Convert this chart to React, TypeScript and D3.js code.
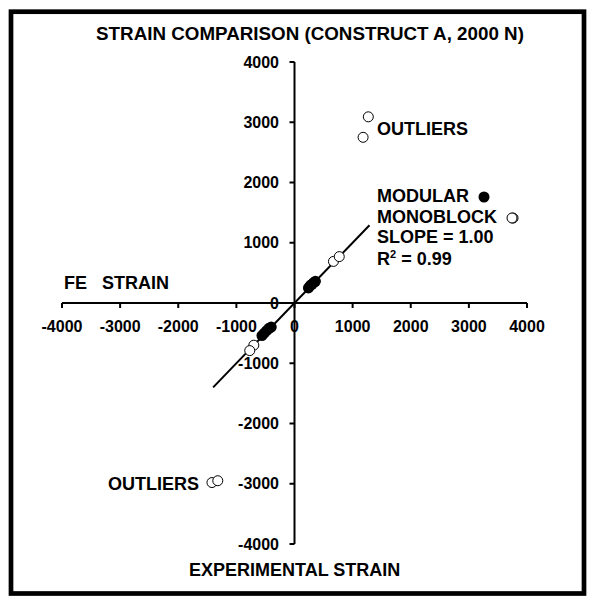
import React from "react";
import * as d3 from "d3";

// valori (microstrain)
const modular = [
  [240, 250], [270, 290], [300, 310], [330, 340], [360, 360],
  [-560, -540], [-520, -500], [-480, -460], [-440, -420], [-400, -400],
];
const monoblock = [
  [670, 690], [770, 770], [-700, -700], [-770, -790],
  [1270, 3090], [1180, 2750], [3760, 1410], [-1420, -2980], [-1320, -2950],
];
const xTicks = [-4000, -3000, -2000, -1000, 0, 1000, 2000, 3000, 4000];
const yTicks = [-4000, -3000, -2000, -1000, 0, 1000, 2000, 3000, 4000];
const fitSlope = 1.0;
const fitRange = [-1400, 1290];
const title = "STRAIN COMPARISON (CONSTRUCT A, 2000 N)";

const W = 600;
const H = 609;
const font = "'Liberation Sans', Arial, sans-serif";

export default function App() {
  const x = d3.scaleLinear().domain([-4000, 4000]).range([62, 527]);
  const y = d3.scaleLinear().domain([-4000, 4000]).range([544, 62]);
  const x0 = x(0);
  const y0 = y(0);

  const line = d3.line<number>()
    .x(d => x(d))
    .y(d => y(d * fitSlope));

  const txt = { fontFamily: font, fontWeight: "bold" as const, fill: "#000" };

  return (
    <svg width={W} height={H} style={{ position: "absolute", left: 0, top: 0 }}>
      <rect x={0} y={0} width={W} height={H} fill="#fff" />
      <rect x={11} y={11.7} width={573} height={581.8} fill="none" stroke="#000" strokeWidth={4.7} />

      <text x={310} y={40} textAnchor="middle" fontSize={18.8} {...txt}>{title}</text>

      {/* assi */}
      <line x1={x(-4000)} x2={x(4000)} y1={y0} y2={y0} stroke="#000" strokeWidth={2} />
      <line x1={x0} x2={x0} y1={y(4000)} y2={y(-4000)} stroke="#000" strokeWidth={2} />

      {xTicks.map(t => (
        <g key={"x" + t}>
          <line x1={x(t)} x2={x(t)} y1={y0} y2={y0 + 5} stroke="#000" strokeWidth={2} />
          <text x={x(t)} y={332} textAnchor="middle" fontSize={16} {...txt}>{t}</text>
        </g>
      ))}
      {yTicks.map(t => (
        <g key={"y" + t}>
          <line x1={x0 - 5} x2={x0} y1={y(t)} y2={y(t)} stroke="#000" strokeWidth={2} />
          <text x={279} y={y(t) + 5.7} textAnchor="end" fontSize={16} {...txt}>{t}</text>
        </g>
      ))}

      <text x={64} y={289} fontSize={18} xmlSpace="preserve" style={{ whiteSpace: "pre" }} {...txt}>{"FE   STRAIN"}</text>
      <text x={189} y={576} fontSize={18} {...txt}>EXPERIMENTAL STRAIN</text>

      {/* retta di regressione */}
      <path d={line(fitRange) || ""} fill="none" stroke="#000" strokeWidth={2} />

      {monoblock.map((d, i) => (
        <circle key={"o" + i} cx={x(d[0])} cy={y(d[1])} r={5} fill="#fff" stroke="#000" strokeWidth={1} />
      ))}
      {modular.map((d, i) => (
        <circle key={"f" + i} cx={x(d[0])} cy={y(d[1])} r={5.5} fill="#000" />
      ))}

      {/* annotazioni */}
      <text x={377} y={135} fontSize={18} {...txt}>OUTLIERS</text>
      <text x={199} y={490} textAnchor="end" fontSize={18} {...txt}>OUTLIERS</text>
      <text x={377} y={201.7} fontSize={18} {...txt}>MODULAR</text>
      <circle cx={484} cy={197} r={5.5} fill="#000" />
      <text x={377} y={222.7} fontSize={18} {...txt}>MONOBLOCK</text>
      <circle cx={512} cy={218} r={5} fill="#fff" stroke="#000" strokeWidth={1} />
      <text x={377} y={243.3} fontSize={18} {...txt}>SLOPE = 1.00</text>
      <text x={377} y={265} fontSize={18} {...txt}>
        R<tspan fontSize={11} dy={-7}>2</tspan><tspan dy={7}> = 0.99</tspan>
      </text>
    </svg>
  );
}
